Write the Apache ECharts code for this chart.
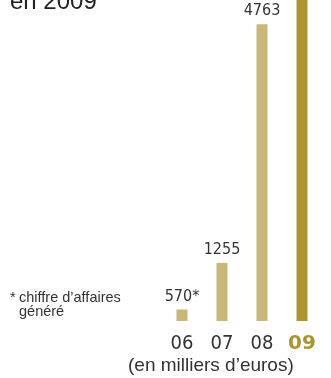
<!DOCTYPE html>
<html>
<head>
<meta charset="utf-8">
<script src="https://cdn.jsdelivr.net/npm/echarts@6/dist/echarts.min.js"></script>
<style>
  html, body { margin: 0; padding: 0; background: #fff; }
  #chart { width: 331px; height: 378px; }
</style>
</head>
<body>
<div id="chart"></div>
<script>
const years = ['06', '07', '08', '09']
const revenue = [570, 1255, 4763, 8000]
const valueNotes = ['*', '', '', '']
const showValue = [true, true, true, false]

const narrow = "'Liberation Sans Narrow', 'DejaVu Sans Condensed', sans-serif"
const lightGold = '#C9B779'
const darkGold = '#AD9432'

const chart = echarts.init(document.getElementById('chart'))

const option = {
  animation: false,
  grid: { left: 162, width: 160, top: 0, bottom: 57 },
  xAxis: {
    type: 'category',
    data: years.map((y, i) => i === years.length - 1
      ? { value: y, textStyle: { color: darkGold, fontWeight: 'bold', fontFamily: "'DejaVu Sans', sans-serif", fontSize: 20 } }
      : y),
    axisLine: { show: false },
    axisTick: { show: false },
    axisLabel: { color: '#333', fontFamily: narrow, fontSize: 20, margin: 13 }
  },
  yAxis: {
    type: 'value',
    min: 400,
    max: 5120,
    show: false,
    splitLine: { show: false }
  },
  series: [
    {
      type: 'bar',
      barWidth: 11,
      clip: true,
      data: revenue.map((v, i) => ({
        value: v,
        itemStyle: { color: i === revenue.length - 1 ? darkGold : lightGold },
        label: { show: showValue[i] }
      })),
      label: {
        position: 'top',
        distance: 5,
        color: '#333',
        fontFamily: narrow,
        fontSize: 16,
        formatter: (p) => p.value + valueNotes[p.dataIndex]
      }
    }
  ],
  graphic: [
    { type: 'text', left: 10, top: -10, style: { text: 'en 2009', fill: '#222', font: "24px 'Liberation Sans', Arial, sans-serif" } },
    { type: 'text', left: 10, top: 290, style: { text: '*', fill: '#333', font: "14.5px 'Liberation Sans', Arial, sans-serif" } },
    { type: 'text', left: 19, top: 290, style: { text: 'chiffre d\u2019affaires', fill: '#333', font: "14.5px 'Liberation Sans', Arial, sans-serif" } },
    { type: 'text', left: 19, top: 304, style: { text: 'généré', fill: '#333', font: "14.5px 'Liberation Sans', Arial, sans-serif" } },
    { type: 'text', left: 128, top: 356, style: { text: '(en milliers d\u2019euros)', fill: '#333', font: "19px 'Liberation Sans', Arial, sans-serif" } }
  ]
}

chart.setOption(option)
</script>
</body>
</html>
